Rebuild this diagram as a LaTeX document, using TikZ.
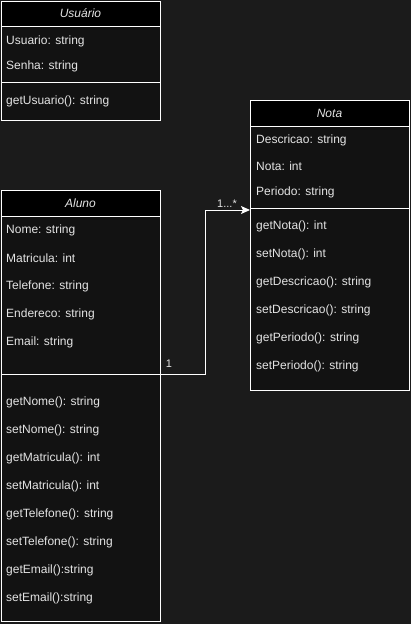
\documentclass[tikz,border=0pt]{standalone}
\usepackage{fontspec}
\setmainfont{Liberation Sans}
\usetikzlibrary{arrows.meta}
\definecolor{canvas}{HTML}{1B1B1B}
\definecolor{boxfill}{HTML}{121212}
\definecolor{ink}{HTML}{E4E4E4}
\begin{document}
\begin{tikzpicture}[x=1pt,y=-1pt,
        comp/.style={draw=white, line width=1pt, fill=boxfill, minimum width=159pt, anchor=north west, inner sep=0pt, outer sep=0pt},
        head/.style={comp, fill=black, minimum height=26pt, text=ink, font=\fontsize{12}{14}\selectfont\itshape},
        member/.style={anchor=west, inner sep=0pt, text=ink, font=\fontsize{12}{14}\selectfont},
        mult/.style={inner sep=0pt, text=ink, font=\fontsize{11}{13}\selectfont}]
        \fill[canvas] (0,0) rectangle (411,624);
        % Usuario
        \node[head, minimum height=25pt] (usuHead) at (1,1) {Usuário};
        \node[comp, minimum height=56pt] (usuAttr) at (usuHead.south west) {};
        \node[comp, minimum height=38pt] (usuMeth) at (usuAttr.south west) {};
        \node[member] (usuA1) at (6,41) {Usuario: string};
        \node[member] (usuA2) at (6,66) {Senha: string};
        \node[member] (usuM1) at (6,101) {getUsuario(): string};
        % Aluno
        \node[head] (aluHead) at (1,190) {Aluno};
        \node[comp, minimum height=158pt] (aluAttr) at (aluHead.south west) {};
        \node[comp, minimum height=247pt] (aluMeth) at (aluAttr.south west) {};
        \foreach \txt [count=\i] in {Nome: string, Matricula: int, Telefone: string, Endereco: string, Email: string}
            \node[member] (aluA\i) at (6,202+28*\i) {\txt};
        \foreach \txt [count=\i] in {getNome(): string, setNome(): string, getMatricula(): int, setMatricula(): int,
                getTelefone(): string, setTelefone(): string, getEmail():string, setEmail():string}
            \node[member] (aluM\i) at (6,374+28*\i) {\txt};
        % Nota
        \node[head] (notaHead) at (250,100) {Nota};
        \node[comp, minimum height=82pt] (notaAttr) at (notaHead.south west) {};
        \node[comp, minimum height=182pt] (notaMeth) at (notaAttr.south west) {};
        \foreach \txt [count=\i] in {Descricao: string, Nota: int, Periodo: string}
            \node[member] (notaA\i) at (256,114+26*\i) {\txt};
        \foreach \txt [count=\i] in {getNota(): int, setNota(): int, getDescricao(): string, setDescricao(): string,
                getPeriodo(): string, setPeriodo(): string}
            \node[member] (notaM\i) at (256,198+28*\i) {\txt};
        % association
        \coordinate (notaIn) at (250,210);
        \draw[white, line width=1pt, -{Stealth[length=9pt,width=8pt,inset=2pt]}] (aluAttr.south east) -- ++(45,0) |- (notaIn);
        \node[mult] (multAlu) at (169,364) {1};
        \node[mult] (multNota) at (227,204) {1...*};
\end{tikzpicture}
\end{document}
